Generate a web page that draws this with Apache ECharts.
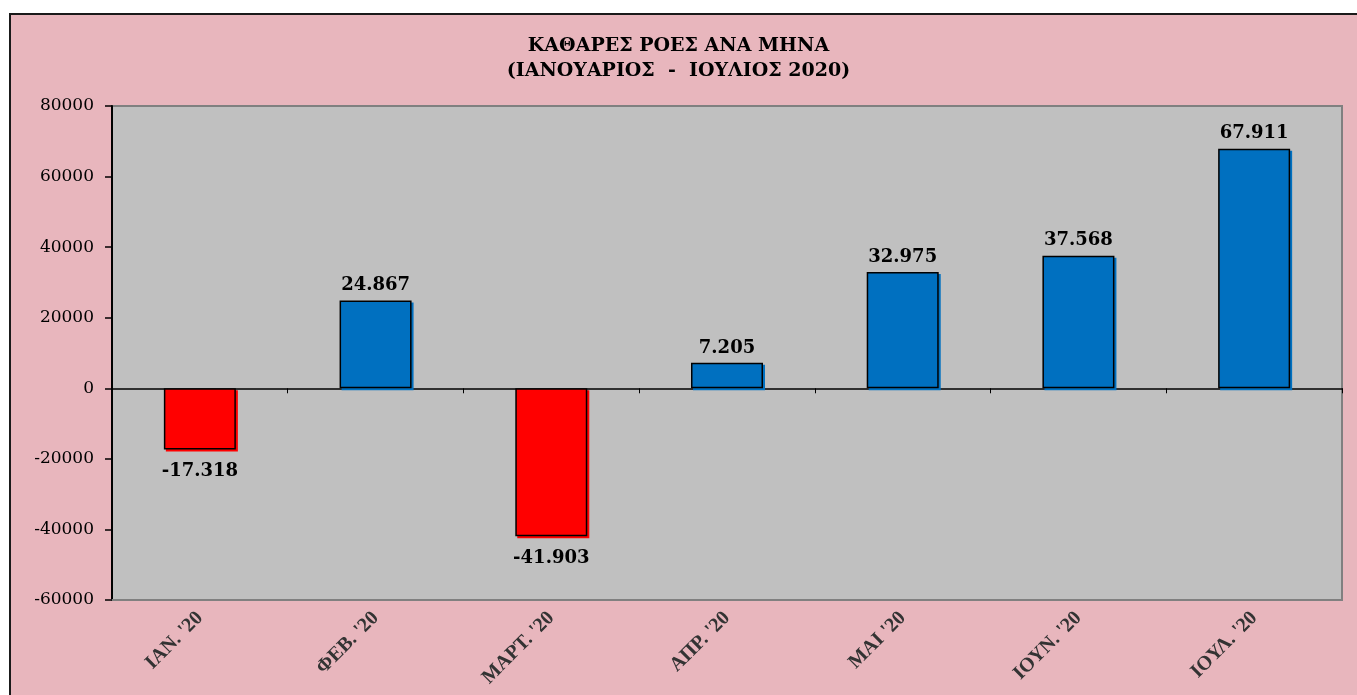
<!DOCTYPE html>
<html>
<head>
<meta charset="utf-8">
<script src="https://cdn.jsdelivr.net/npm/echarts@6/dist/echarts.min.js"></script>
<style>
	html, body { margin: 0; padding: 0; background: #fff; overflow: hidden; }
	#paper {
		position: absolute; left: 9px; top: 13px; width: 1400px; height: 720px;
		background: #e8b6bd; border-left: 2px solid #1a1a1a; border-top: 2px solid #1a1a1a;
	}
	#main { position: absolute; left: 0; top: 0; width: 1357px; height: 695px; }
</style>
</head>
<body>
<div id="paper"></div>
<div id="main"></div>
<script>
var months = ["ΙΑΝ. '20", "ΦΕΒ. '20", "ΜΑΡΤ. '20", "ΑΠΡ. '20", "ΜΑΙ '20", "ΙΟΥΝ. '20", "ΙΟΥΛ. '20"];
var flows = [-17318, 24867, -41903, 7205, 32975, 37568, 67911];
var yTicks = { min: -60000, max: 80000, step: 20000 };

// 12345 -> 12.345
function dotted(v) {
	var s = Math.abs(v) + '';
	s = s.replace(/\B(?=(\d{3})+(?!\d))/g, '.');
	return (v < 0 ? '-' : '') + s;
}

var ec = echarts.init(document.getElementById('main'), null, { renderer: 'canvas' });

var barData = [];
for (var i = 0; i < flows.length; i++) {
	var neg = flows[i] < 0;
	var col = neg ? '#ff0000' : '#0070c0';
	barData.push({
		value: flows[i],
		itemStyle: {
			color: col,
			borderColor: '#000',
			borderWidth: 1.5,
			shadowColor: col,
			shadowOffsetX: 2,
			shadowOffsetY: 2,
			shadowBlur: 0
		},
		label: {
			position: neg ? 'bottom' : 'top',
			distance: neg ? 13 : 6
		}
	});
}

ec.setOption({
	backgroundColor: 'transparent',
	animation: false,
	title: {
		text: 'ΚΑΘΑΡΕΣ ΡΟΕΣ ΑΝΑ ΜΗΝΑ\n(ΙΑΝΟΥΑΡΙΟΣ  -  ΙΟΥΛΙΟΣ 2020)',
		left: 'center',
		top: 29,
		textStyle: {
			color: '#000',
			fontFamily: 'DejaVu Serif',
			fontWeight: 'bold',
			fontSize: 19,
			lineHeight: 25
		}
	},
	grid: {
		left: 112,
		right: 15,
		top: 106,
		bottom: 95,
		show: true,
		backgroundColor: '#c0c0c0',
		borderColor: '#808080',
		borderWidth: 2
	},
	xAxis: [{
		type: 'category',
		data: months,
		position: 'bottom',
		axisLine: {
			onZero: false,
			lineStyle: { color: '#808080', width: 2 }
		},
		axisTick: { show: false },
		axisLabel: {
			rotate: 45,
			margin: 15,
			color: '#333',
			fontFamily: 'Liberation Serif',
			fontWeight: 'bold',
			fontSize: 20
		}
	}, {
		type: 'category',
		data: months,
		position: 'bottom',
		axisLine: {
			onZero: true,
			lineStyle: { color: '#000', width: 1.5 }
		},
		axisTick: {
			show: true,
			length: 5,
			lineStyle: { color: '#000', width: 1 }
		},
		axisLabel: { show: false }
	}],
	yAxis: {
		type: 'value',
		min: yTicks.min,
		max: yTicks.max,
		interval: yTicks.step,
		axisLine: {
			show: true,
			lineStyle: { color: '#000', width: 2 }
		},
		axisTick: {
			show: true,
			length: 7,
			lineStyle: { color: '#000', width: 1.5 }
		},
		splitLine: { show: false },
		axisLabel: {
			margin: 18,
			color: '#000',
			fontFamily: 'DejaVu Serif',
			fontSize: 17,
			formatter: function(v) {
				return v + '';
			}
		}
	},
	series: [{
		type: 'bar',
		xAxisIndex: 0,
		barWidth: 72,
		label: {
			show: true,
			color: '#000',
			fontFamily: 'DejaVu Serif',
			fontWeight: 'bold',
			fontSize: 18,
			formatter: function(p) {
				return dotted(p.value);
			}
		},
		data: barData
	}]
});
</script>
</body>
</html>
